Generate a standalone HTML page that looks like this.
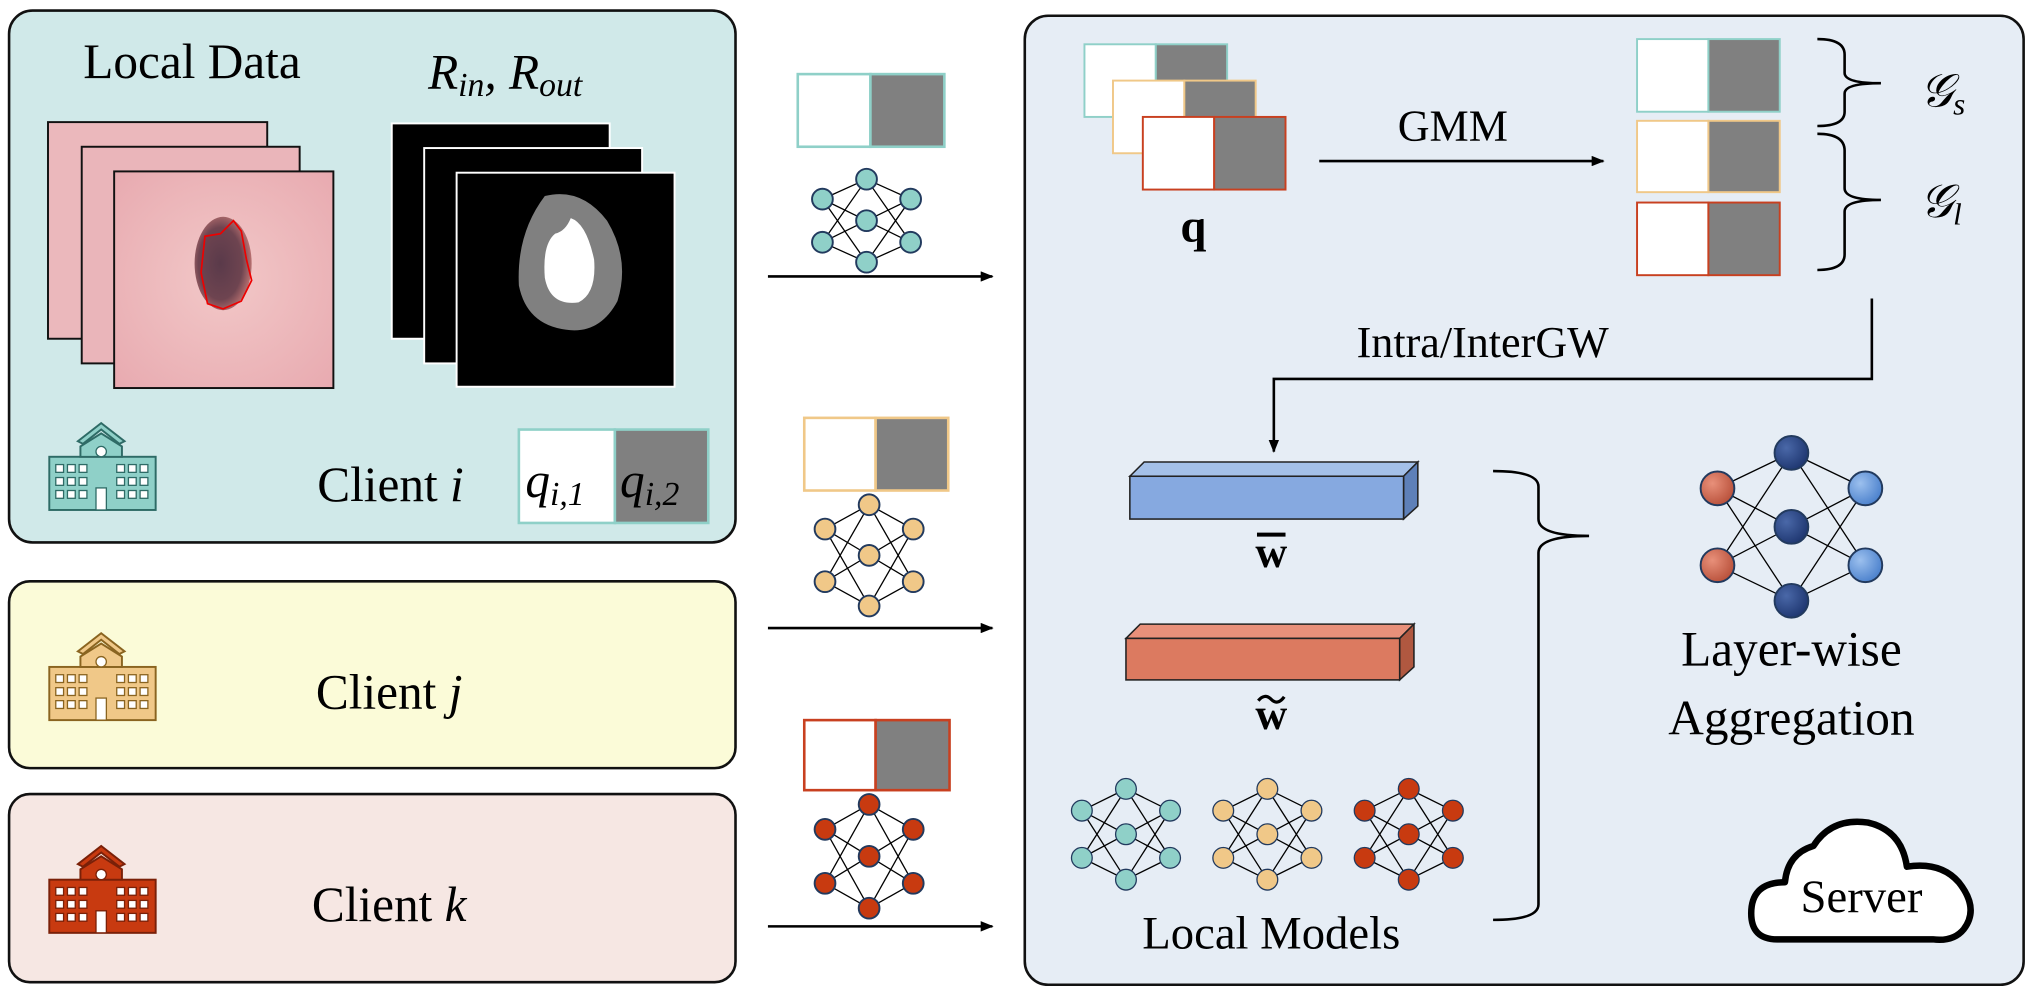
<!DOCTYPE html>
<html><head><meta charset="utf-8"><style>
html,body{margin:0;padding:0;background:#fff}
svg{display:block}
text{font-family:"Liberation Serif",serif;fill:#000}
</style></head><body>
<svg id="s" width="2034" height="994" viewBox="0 0 1568 766" xmlns="http://www.w3.org/2000/svg">
<defs>
<radialGradient id="gr" cx="35%" cy="35%" r="70%"><stop offset="0" stop-color="#e8907a"/><stop offset="1" stop-color="#b8503a"/></radialGradient>
<radialGradient id="gd" cx="35%" cy="35%" r="70%"><stop offset="0" stop-color="#4a68a8"/><stop offset="1" stop-color="#1e3670"/></radialGradient>
<radialGradient id="gb" cx="35%" cy="35%" r="70%"><stop offset="0" stop-color="#9cc0ee"/><stop offset="1" stop-color="#4a80cc"/></radialGradient>
<radialGradient id="skin" cx="50%" cy="50%" r="70%"><stop offset="0" stop-color="#f2c8c8"/><stop offset="1" stop-color="#e8aab0"/></radialGradient>
<radialGradient id="les" cx="45%" cy="50%" r="55%"><stop offset="0" stop-color="#5a3a4a"/><stop offset="0.7" stop-color="#6e4450"/><stop offset="1" stop-color="#b87070"/></radialGradient>
<marker id="ah" markerWidth="10" markerHeight="8" refX="9" refY="4" orient="auto" markerUnits="userSpaceOnUse"><path d="M0,0 L10,4 L0,8 Z" fill="#000"/></marker>
<g id="hosp" stroke-width="1.5">
<path d="M60,340 L78,326 L96,340 L92,342 L78,331 L64,342 Z"/>
<rect x="38" y="352" width="82" height="41"/>
<path d="M62,352 L62,344 L78,334 L94,344 L94,352 Z"/>
<g fill="#fff" stroke-width="1">
<rect x="43" y="358" width="6" height="6"/><rect x="52" y="358" width="6" height="6"/><rect x="61" y="358" width="6" height="6"/>
<rect x="90" y="358" width="6" height="6"/><rect x="99" y="358" width="6" height="6"/><rect x="108" y="358" width="6" height="6"/>
<rect x="43" y="368" width="6" height="6"/><rect x="52" y="368" width="6" height="6"/><rect x="61" y="368" width="6" height="6"/>
<rect x="90" y="368" width="6" height="6"/><rect x="99" y="368" width="6" height="6"/><rect x="108" y="368" width="6" height="6"/>
<rect x="43" y="378" width="6" height="6"/><rect x="52" y="378" width="6" height="6"/><rect x="61" y="378" width="6" height="6"/>
<rect x="90" y="378" width="6" height="6"/><rect x="99" y="378" width="6" height="6"/><rect x="108" y="378" width="6" height="6"/>
<rect x="74" y="376" width="8" height="17"/>
<circle cx="78" cy="348" r="4"/>
</g>
</g>
</defs>

<!-- client boxes -->
<rect x="7" y="8" width="560" height="410" rx="18" fill="#d0e9e9" stroke="#111" stroke-width="2"/>
<rect x="7" y="448" width="560" height="144" rx="16" fill="#fbfbd8" stroke="#111" stroke-width="2"/>
<rect x="7" y="612" width="560" height="145" rx="16" fill="#f6e7e3" stroke="#111" stroke-width="2"/>
<!-- server box -->
<rect x="790" y="12" width="770" height="747" rx="18" fill="#e6edf5" stroke="#111" stroke-width="2"/>

<text x="148" y="60" font-size="38" text-anchor="middle">Local Data</text>
<text x="330" y="68" font-size="38" font-style="italic">R<tspan font-size="26" dy="6">in</tspan><tspan dy="-6">, R</tspan><tspan font-size="26" dy="6">out</tspan></text>

<!-- skin images -->
<rect x="37" y="94" width="169" height="167" fill="#ebb8bc" stroke="#111" stroke-width="1.5"/>
<rect x="63" y="113" width="168" height="167" fill="#eab5ba" stroke="#111" stroke-width="1.5"/>
<rect x="88" y="132" width="169" height="167" fill="url(#skin)" stroke="#111" stroke-width="1.5"/>
<ellipse cx="172" cy="203" rx="22" ry="36" fill="url(#les)"/>
<path d="M158,182 L170,180 L180,170 L186,178 L190,200 L194,216 L186,232 L172,238 L160,234 L155,210 Z" fill="none" stroke="#e00" stroke-width="1.3"/>
<!-- masks -->
<rect x="302" y="95" width="168" height="166" fill="#000" stroke="#fff" stroke-width="1.5"/>
<rect x="327" y="114" width="168" height="166" fill="#000" stroke="#fff" stroke-width="1.5"/>
<rect x="352" y="133" width="168" height="165" fill="#000" stroke="#fff" stroke-width="1.5"/>
<path d="M420,151 Q448,144 468,170 Q486,200 476,232 Q462,258 436,254 Q406,250 400,220 Q398,180 420,151 Z" fill="#808080"/>
<path d="M440,168 Q452,172 458,200 Q460,226 446,233 Q424,236 420,214 Q418,188 428,180 Q436,178 440,168 Z" fill="#fff"/>

<!-- hospitals -->
<g fill="#8fd0c8" stroke="#2e6b66"><use href="#hosp"/></g>
<g fill="#f0c888" stroke="#8a6420" transform="translate(0,162)"><use href="#hosp"/></g>
<g fill="#c83a10" stroke="#7a2008" transform="translate(0,326)"><use href="#hosp"/></g>

<text x="301" y="386" font-size="38" text-anchor="middle">Client <tspan font-style="italic">i</tspan></text>
<rect x="400" y="331" width="74" height="72" fill="#fff" stroke="#8fd0c8" stroke-width="2"/>
<rect x="474" y="331" width="72" height="72" fill="#808080" stroke="#8fd0c8" stroke-width="2"/>
<text x="405" y="383" font-size="38" font-style="italic">q<tspan font-size="26" dy="6">i,1</tspan></text>
<text x="478" y="383" font-size="38" font-style="italic">q<tspan font-size="26" dy="6">i,2</tspan></text>

<text x="300" y="546" font-size="38" text-anchor="middle">Client <tspan font-style="italic">j</tspan></text>
<text x="300" y="710" font-size="38" text-anchor="middle">Client <tspan font-style="italic">k</tspan></text>

<!-- transmissions -->
<rect x="615" y="57" width="56" height="56" fill="#fff" stroke="#8fd0c8" stroke-width="2"/><rect x="671" y="57" width="57" height="56" fill="#808080" stroke="#8fd0c8" stroke-width="2"/>
<rect x="620" y="322" width="55" height="56" fill="#fff" stroke="#f0c888" stroke-width="2"/><rect x="675" y="322" width="56" height="56" fill="#808080" stroke="#f0c888" stroke-width="2"/>
<rect x="620" y="555" width="55" height="54" fill="#fff" stroke="#c84020" stroke-width="2"/><rect x="675" y="555" width="57" height="54" fill="#808080" stroke="#c84020" stroke-width="2"/>
<line x1="592" y1="213" x2="765" y2="213" stroke="#000" stroke-width="2" marker-end="url(#ah)"/>
<line x1="592" y1="484" x2="765" y2="484" stroke="#000" stroke-width="2" marker-end="url(#ah)"/>
<line x1="592" y1="714" x2="765" y2="714" stroke="#000" stroke-width="2" marker-end="url(#ah)"/>

<!-- server: q stack -->
<g stroke-width="1.5">
<rect x="836" y="34" width="55" height="56" fill="#fff" stroke="#8fd0c8"/><rect x="891" y="34" width="55" height="56" fill="#808080" stroke="#8fd0c8"/>
<rect x="858" y="62" width="55" height="56" fill="#fff" stroke="#f0c888"/><rect x="913" y="62" width="55" height="56" fill="#808080" stroke="#f0c888"/>
<rect x="881" y="90" width="55" height="56" fill="#fff" stroke="#c84020"/><rect x="936" y="90" width="55" height="56" fill="#808080" stroke="#c84020"/>
<rect x="1262" y="30" width="55" height="56" fill="#fff" stroke="#8fd0c8"/><rect x="1317" y="30" width="55" height="56" fill="#808080" stroke="#8fd0c8"/>
<rect x="1262" y="93" width="55" height="55" fill="#fff" stroke="#f0c888"/><rect x="1317" y="93" width="55" height="55" fill="#808080" stroke="#f0c888"/>
<rect x="1262" y="156" width="55" height="56" fill="#fff" stroke="#c84020"/><rect x="1317" y="156" width="55" height="56" fill="#808080" stroke="#c84020"/>
</g>
<text x="920" y="186" font-size="36" font-weight="bold" text-anchor="middle">q</text>
<line x1="1017" y1="124" x2="1236" y2="124" stroke="#000" stroke-width="2" marker-end="url(#ah)"/>
<text x="1120" y="108" font-size="34" text-anchor="middle">GMM</text>
<path d="M1401,30 Q1422,30 1422,42 L1422,56 Q1422,64 1450,64 Q1422,64 1422,72 L1422,86 Q1422,97 1401,97" fill="none" stroke="#000" stroke-width="2"/>
<path d="M1401,103 Q1422,103 1422,116 L1422,145 Q1422,154 1450,154 Q1422,154 1422,163 L1422,196 Q1422,208 1401,208" fill="none" stroke="#000" stroke-width="2"/>
<text x="1480" y="82" font-size="36" font-style="italic">𝒢<tspan font-size="24" dy="6">s</tspan></text>
<text x="1480" y="167" font-size="36" font-style="italic">𝒢<tspan font-size="24" dy="6">l</tspan></text>

<polyline points="1443,230 1443,292 982,292 982,348" fill="none" stroke="#000" stroke-width="2" marker-end="url(#ah)"/>
<text x="1143" y="275" font-size="34" text-anchor="middle">Intra/InterGW</text>

<!-- bars -->
<polygon points="871,367 882,356 1093,356 1082,367" fill="#a4c0e8" stroke="#222" stroke-width="1.2"/>
<polygon points="1082,367 1093,356 1093,390 1082,400" fill="#5e80b8" stroke="#222" stroke-width="1.2"/>
<rect x="871" y="367" width="211" height="33" fill="#86a9e0" stroke="#222" stroke-width="1.2"/>
<text x="980" y="437" font-size="34" font-weight="bold" text-anchor="middle">w</text>
<line x1="969" y1="412" x2="991" y2="412" stroke="#000" stroke-width="3"/>
<polygon points="868,492 879,481 1090,481 1079,492" fill="#e8907a" stroke="#222" stroke-width="1.2"/>
<polygon points="1079,492 1090,481 1090,514 1079,524" fill="#b05840" stroke="#222" stroke-width="1.2"/>
<rect x="868" y="492" width="211" height="32" fill="#dc7a60" stroke="#222" stroke-width="1.2"/>
<text x="980" y="562" font-size="34" font-weight="bold" text-anchor="middle">w</text>
<path d="M970,540 Q975,534 980,539 Q985,544 990,537" fill="none" stroke="#000" stroke-width="2.5"/>

<g id="nets"></g>
<text x="980" y="731" font-size="36" text-anchor="middle">Local Models</text>

<path d="M1151,363 Q1186,363 1186,375 L1186,400 Q1186,413 1225,413 Q1186,413 1186,426 L1186,697 Q1186,709 1151,709" fill="none" stroke="#000" stroke-width="2"/>

<text x="1381" y="513" font-size="38" text-anchor="middle">Layer-wise</text>
<text x="1381" y="566" font-size="38" text-anchor="middle">Aggregation</text>

<!-- cloud -->
<path d="M1370,724 Q1350,724 1350,704 Q1350,680 1376,680 Q1378,658 1398,652 Q1412,630 1440,634 Q1466,640 1470,668 Q1496,664 1510,680 Q1526,700 1514,716 Q1506,726 1490,724 Z" fill="#fff" stroke="#000" stroke-width="5" stroke-linejoin="round"/>
<text x="1435" y="703" font-size="36" text-anchor="middle">Server</text>
</svg>
<script>
var g=document.getElementById('nets'),NS="http://www.w3.org/2000/svg";
function net(cx,top,h,w,r,fills,sw){
 var L=[[cx-w,top+h*0.24],[cx-w,top+h*0.76]],M=[[cx,top],[cx,top+h/2],[cx,top+h]],R=[[cx+w,top+h*0.24],[cx+w,top+h*0.76]];
 function ln(a,b){var l=document.createElementNS(NS,'line');l.setAttribute('x1',a[0]);l.setAttribute('y1',a[1]);l.setAttribute('x2',b[0]);l.setAttribute('y2',b[1]);l.setAttribute('stroke','#000');l.setAttribute('stroke-width',1);g.appendChild(l);}
 L.forEach(function(a){M.forEach(function(b){ln(a,b)})});M.forEach(function(a){R.forEach(function(b){ln(a,b)})});
 function c(p,f){var e=document.createElementNS(NS,'circle');e.setAttribute('cx',p[0]);e.setAttribute('cy',p[1]);e.setAttribute('r',r);e.setAttribute('fill',f);e.setAttribute('stroke','#223a5e');e.setAttribute('stroke-width',sw);g.appendChild(e);}
 L.forEach(function(p){c(p,fills[0])});M.forEach(function(p){c(p,fills[1])});R.forEach(function(p){c(p,fills[2])});
}
var T=['#8fd0c8','#8fd0c8','#8fd0c8'],O=['#f0c888','#f0c888','#f0c888'],K=['#c83a10','#c83a10','#c83a10'];
net(668,138,64,34,8,T,1.5);
net(670,389,78,34,8,O,1.5);
net(670,620,80,34,8,K,1.5);
net(868,608,70,34,8,T,1);
net(977,608,70,34,8,O,1);
net(1086,608,70,34,8,K,1);
net(1381,349,114,57,13,['url(#gr)','url(#gd)','url(#gb)'],1.5);
</script>
</body></html>
